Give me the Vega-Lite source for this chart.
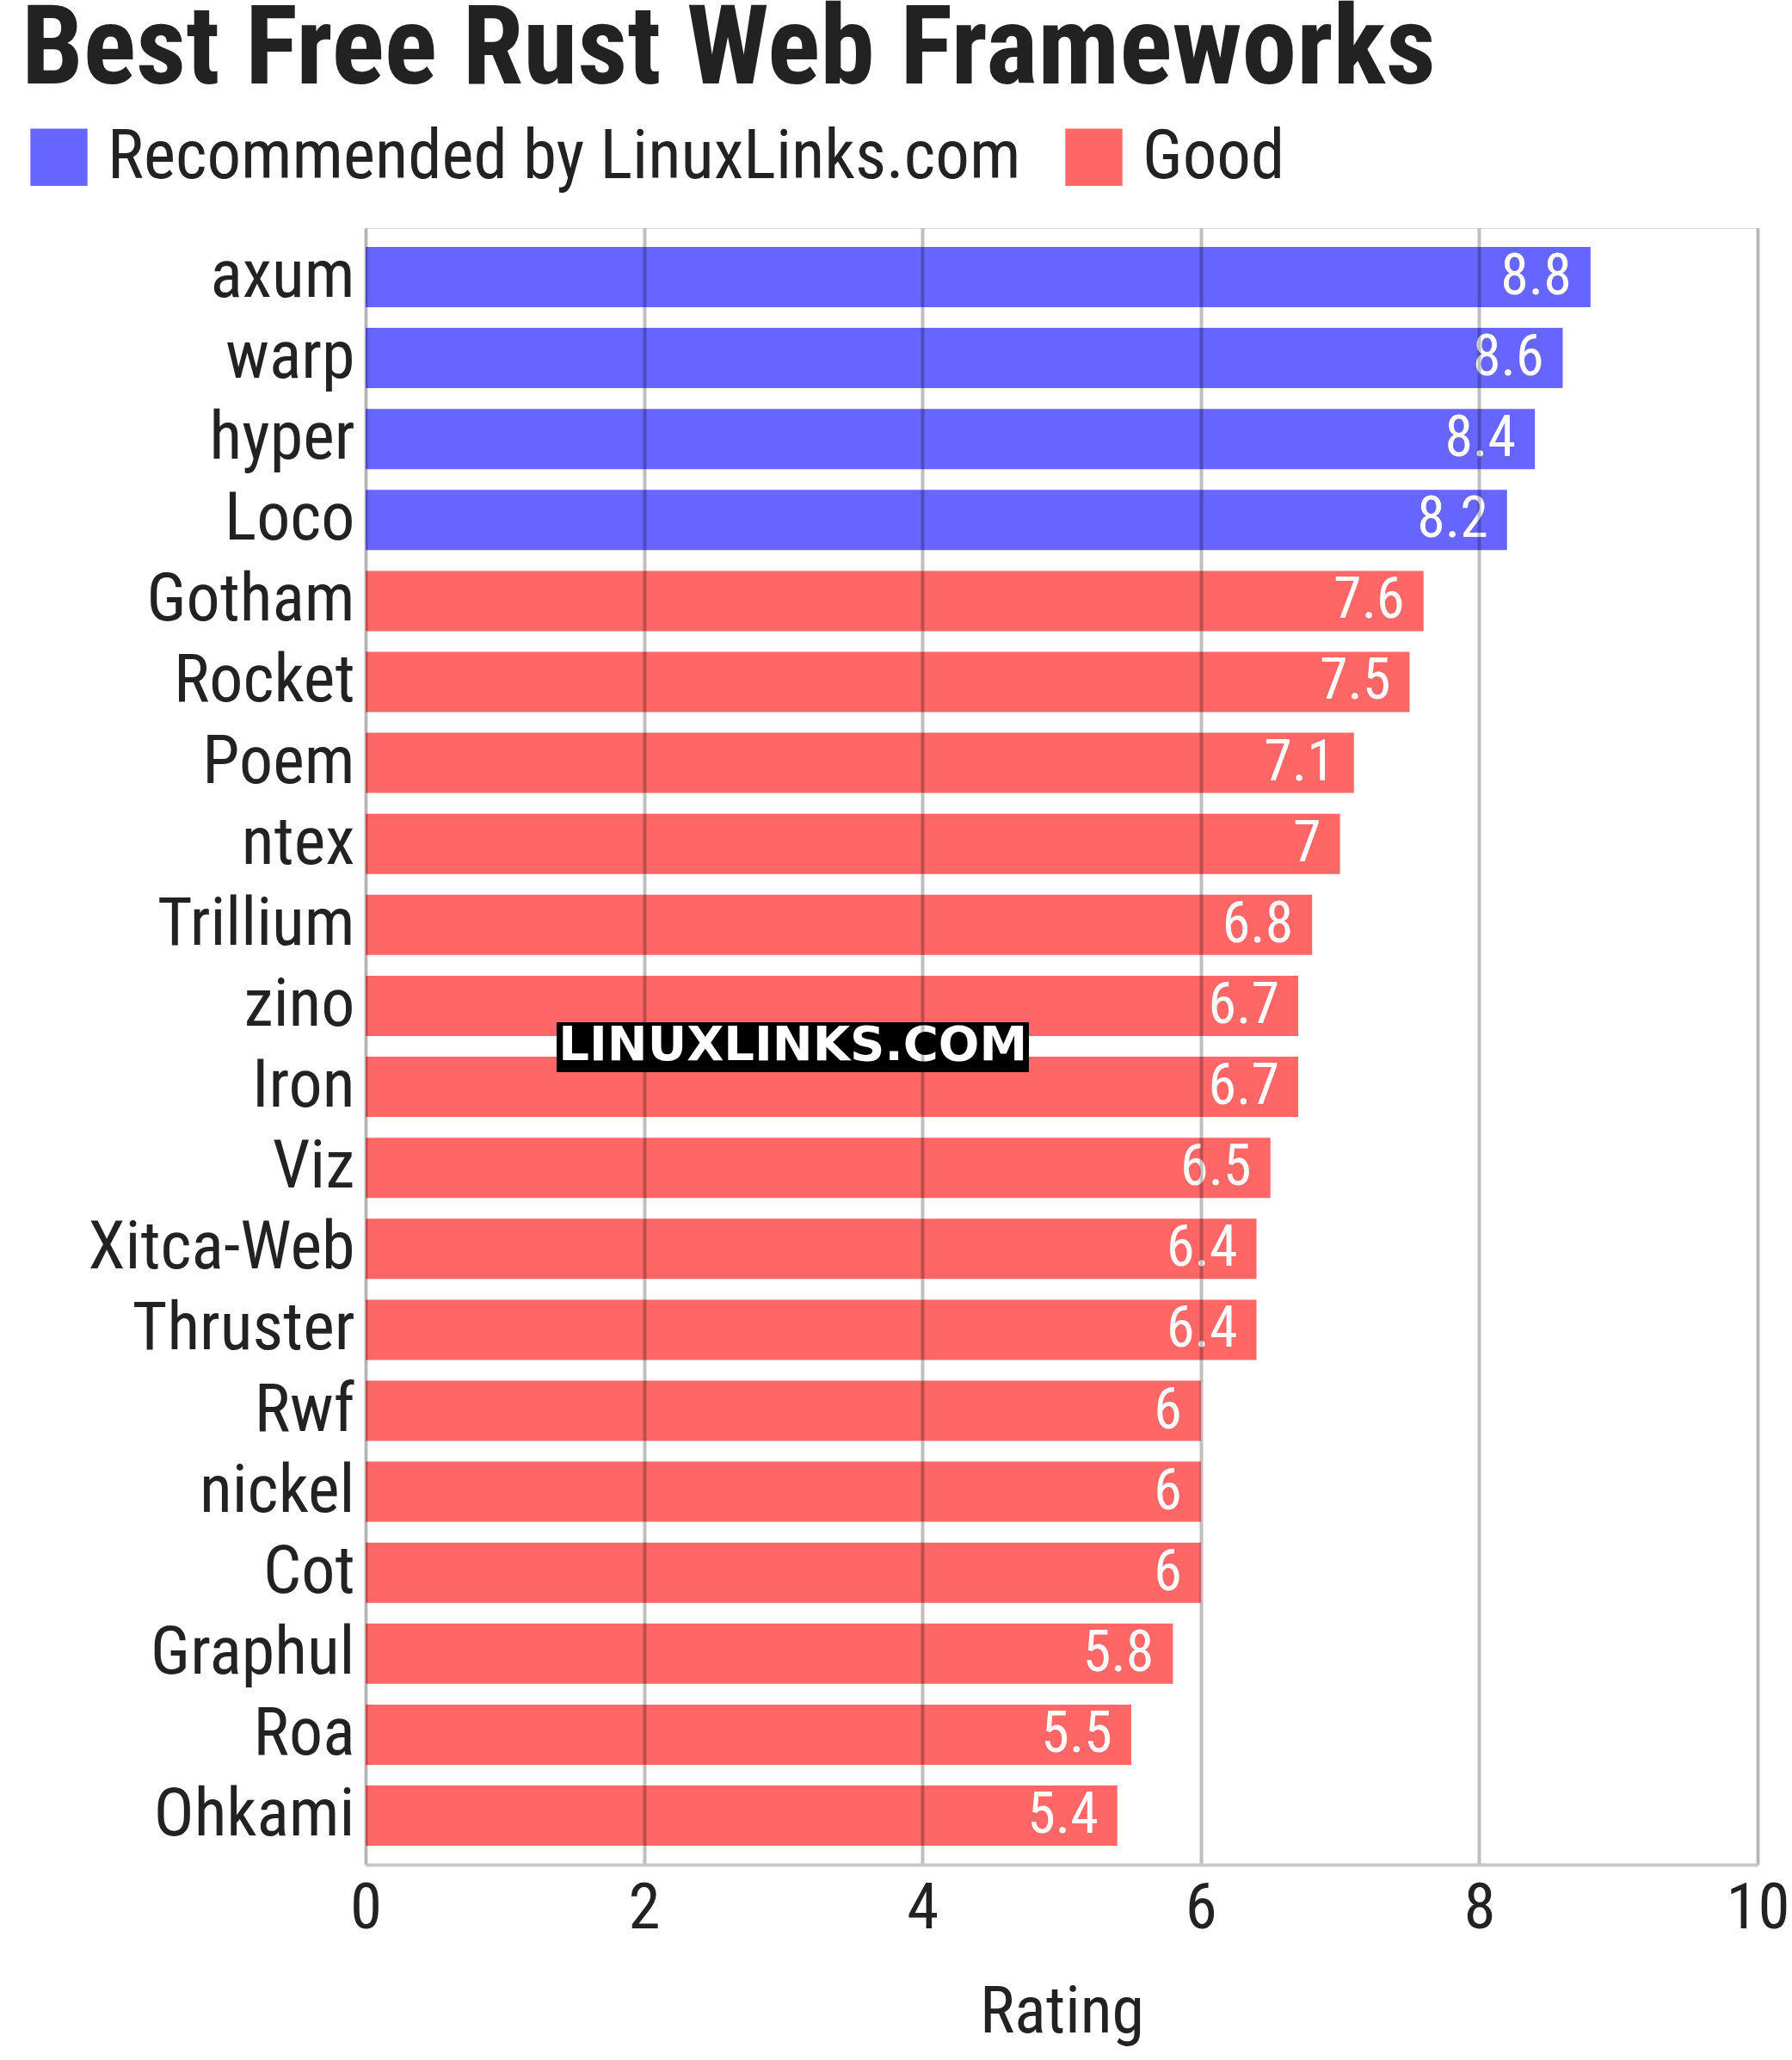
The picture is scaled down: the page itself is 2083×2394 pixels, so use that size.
{
  "$schema": "https://vega.github.io/schema/vega-lite/v6.json",
  "width": 1618,
  "height": 1902,
  "autosize": {"type": "none"},
  "padding": {"left": 425, "top": 265, "right": 40, "bottom": 227},
  "background": "white",
  "title": {
    "text": "Best Free Rust Web Frameworks",
    "orient": "none",
    "anchor": "start",
    "frame": "group",
    "dx": -400,
    "dy": -168,
    "offset": 0,
    "baseline": "alphabetic",
    "font": "Roboto Condensed",
    "fontSize": 128,
    "fontWeight": "bold",
    "color": "#222222"
  },
  "data": {
    "values": [
      {"Framework": "axum", "Rating": 8.8, "Category": "Recommended by LinuxLinks.com"},
      {"Framework": "warp", "Rating": 8.6, "Category": "Recommended by LinuxLinks.com"},
      {"Framework": "hyper", "Rating": 8.4, "Category": "Recommended by LinuxLinks.com"},
      {"Framework": "Loco", "Rating": 8.2, "Category": "Recommended by LinuxLinks.com"},
      {"Framework": "Gotham", "Rating": 7.6, "Category": "Good"},
      {"Framework": "Rocket", "Rating": 7.5, "Category": "Good"},
      {"Framework": "Poem", "Rating": 7.1, "Category": "Good"},
      {"Framework": "ntex", "Rating": 7, "Category": "Good"},
      {"Framework": "Trillium", "Rating": 6.8, "Category": "Good"},
      {"Framework": "zino", "Rating": 6.7, "Category": "Good"},
      {"Framework": "Iron", "Rating": 6.7, "Category": "Good"},
      {"Framework": "Viz", "Rating": 6.5, "Category": "Good"},
      {"Framework": "Xitca-Web", "Rating": 6.4, "Category": "Good"},
      {"Framework": "Thruster", "Rating": 6.4, "Category": "Good"},
      {"Framework": "Rwf", "Rating": 6, "Category": "Good"},
      {"Framework": "nickel", "Rating": 6, "Category": "Good"},
      {"Framework": "Cot", "Rating": 6, "Category": "Good"},
      {"Framework": "Graphul", "Rating": 5.8, "Category": "Good"},
      {"Framework": "Roa", "Rating": 5.5, "Category": "Good"},
      {"Framework": "Ohkami", "Rating": 5.4, "Category": "Good"}
    ]
  },
  "encoding": {
    "y": {
      "field": "Framework",
      "type": "nominal",
      "sort": null,
      "scale": {"paddingInner": 0.256, "paddingOuter": 0.233},
      "axis": {
        "title": null,
        "ticks": false,
        "domain": false,
        "labelFont": "Roboto Condensed",
        "labelFontSize": 78,
        "labelColor": "#222222",
        "labelPadding": 13,
        "labelLimit": 0
      }
    },
    "x": {
      "field": "Rating",
      "type": "quantitative",
      "scale": {"domain": [0, 10]},
      "axis": {
        "title": "Rating",
        "values": [0, 2, 4, 6, 8, 10],
        "zindex": 1,
        "ticks": false,
        "grid": true,
        "gridColor": "#000000",
        "gridOpacity": 0.25,
        "gridWidth": 4,
        "domainColor": "#c8c8c8",
        "domainWidth": 4,
        "labelFont": "Roboto Condensed",
        "labelFontSize": 75,
        "labelColor": "#222222",
        "labelPadding": 14,
        "labelFlush": false,
        "titleFont": "Roboto Condensed",
        "titleFontSize": 76,
        "titleFontWeight": "normal",
        "titleColor": "#222222",
        "titlePadding": 46
      }
    }
  },
  "layer": [
    {
      "mark": {"type": "bar"},
      "encoding": {
        "color": {
          "field": "Category",
          "type": "nominal",
          "scale": {
            "domain": ["Recommended by LinuxLinks.com", "Good"],
            "range": ["#6666ff", "#ff6666"]
          },
          "legend": {
            "title": null,
            "orient": "none",
            "direction": "horizontal",
            "legendX": -396,
            "legendY": -122,
            "symbolType": "square",
            "symbolSize": 4400,
            "symbolStrokeWidth": 0,
            "symbolOpacity": 1,
            "labelFont": "Roboto Condensed",
            "labelFontSize": 79,
            "labelColor": "#222222",
            "labelOffset": 17,
            "labelLimit": 0,
            "columnPadding": 45,
            "padding": 0
          }
        }
      }
    },
    {
      "mark": {
        "type": "text",
        "align": "right",
        "baseline": "middle",
        "dx": -22,
        "font": "Roboto Condensed",
        "fontSize": 66,
        "color": "white"
      },
      "encoding": {
        "text": {"field": "Rating", "type": "quantitative"}
      }
    },
    {
      "transform": [{"filter": "datum.Framework == 'zino'"}],
      "mark": {"type": "rect", "color": "black", "height": 58, "yOffset": 48},
      "encoding": {
        "x": {"datum": 1.372},
        "x2": {"datum": 4.765}
      }
    },
    {
      "transform": [{"filter": "datum.Framework == 'zino'"}],
      "mark": {
        "type": "text",
        "align": "center",
        "baseline": "middle",
        "yOffset": 46,
        "font": "DejaVu Sans",
        "fontWeight": "bold",
        "fontSize": 56,
        "color": "white"
      },
      "encoding": {
        "x": {"datum": 3.07},
        "text": {"value": "LINUXLINKS.COM"}
      }
    }
  ]
}
